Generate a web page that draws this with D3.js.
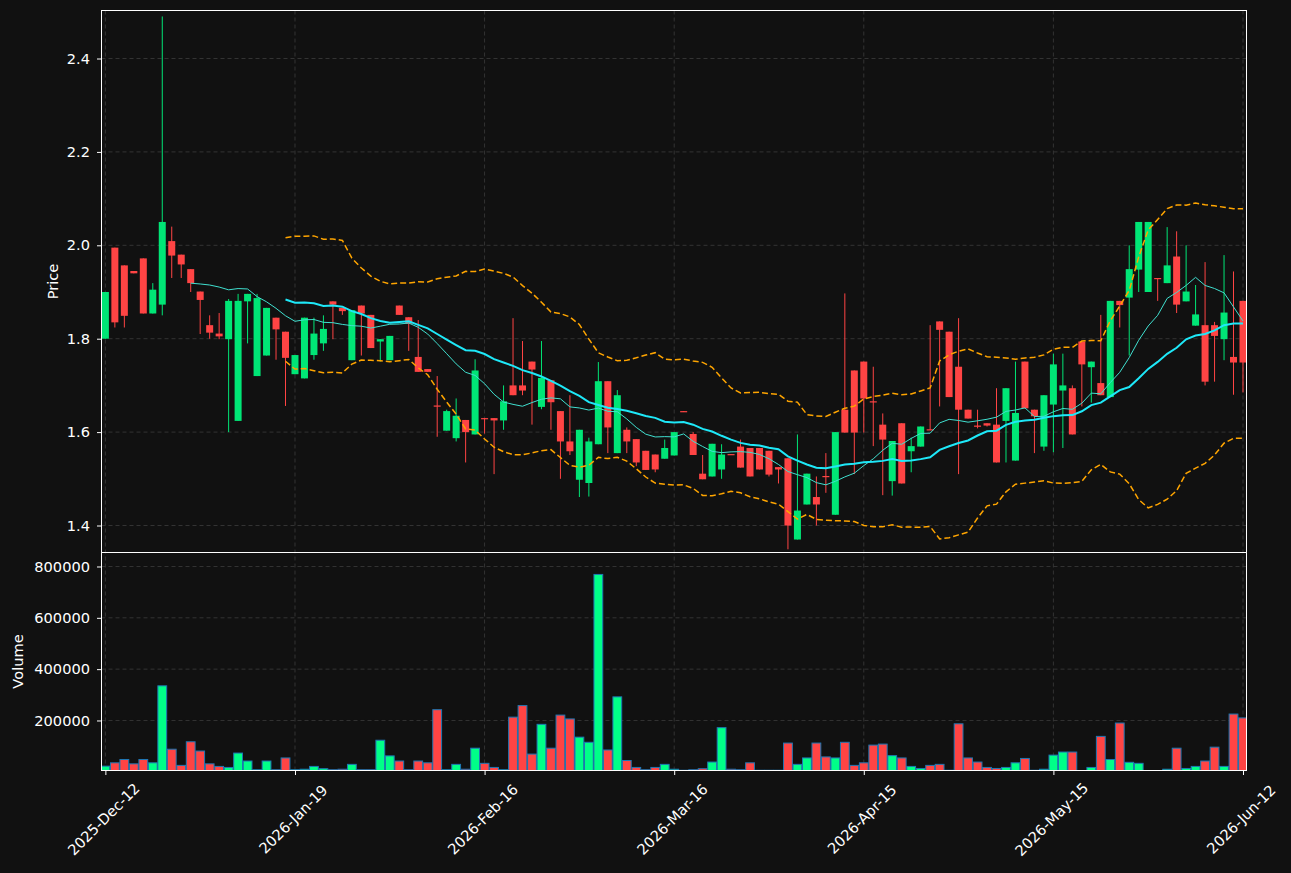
<!DOCTYPE html>
<html>
<head>
<meta charset="utf-8">
<script src="https://cdn.jsdelivr.net/npm/d3@7"></script>
<style>
  body { margin: 0; background: #111111; }
  svg { display: block; font-family: "DejaVu Sans", sans-serif; }
</style>
</head>
<body>
<div id="chart"></div>
<script>
// tick labels sit on every 20th trading day
const tickIdx = [0, 20, 40, 60, 80, 100, 120];
const tickLabels = ["2025-Dec-12", "2026-Jan-19", "2026-Feb-16", "2026-Mar-16", "2026-Apr-15", "2026-May-15", "2026-Jun-12"];

const opens = [
  1.80, 1.995, 1.957, 1.945, 1.972, 1.854, 1.873, 2.009, 1.98, 1.949, 1.901, 1.829,
  1.811, 1.799, 1.624, 1.880, 1.72, 1.764, 1.845, 1.815, 1.724, 1.715, 1.765, 1.79,
  1.880, 1.866, 1.754, 1.871, 1.851, 1.794, 1.754, 1.871, 1.846, 1.761, 1.735, 1.657,
  1.603, 1.587, 1.626, 1.595, 1.630, 1.630, 1.625, 1.70, 1.70, 1.751, 1.654, 1.711,
  1.645, 1.58, 1.498, 1.491, 1.574, 1.709, 1.555, 1.605, 1.585, 1.56, 1.552, 1.543,
  1.55, 1.645, 1.596, 1.511, 1.505, 1.52, 1.553, 1.569, 1.566, 1.566, 1.56, 1.525,
  1.544, 1.37, 1.445, 1.461, 1.506, 1.423, 1.648, 1.732, 1.751, 1.666, 1.616, 1.495,
  1.619, 1.559, 1.569, 1.606, 1.837, 1.815, 1.74, 1.648, 1.614, 1.619, 1.616, 1.624,
  1.539, 1.751, 1.648, 1.569, 1.659, 1.689, 1.694, 1.794, 1.739, 1.705, 1.675, 1.881,
  1.888, 1.948, 1.90, 1.93, 1.919, 1.976, 1.88, 1.828, 1.829, 1.829, 1.799, 1.761, 1.881
];
const highs = [
  1.90, 1.995, 1.957, 1.945, 1.972, 1.919, 2.49, 2.04, 1.98, 1.949, 1.901, 1.85,
  1.855, 1.885, 1.896, 1.896, 1.896, 1.866, 1.845, 1.815, 1.765, 1.845, 1.845, 1.85,
  1.88, 1.866, 1.861, 1.871, 1.851, 1.799, 1.806, 1.871, 1.846, 1.84, 1.735, 1.72,
  1.648, 1.672, 1.626, 1.756, 1.63, 1.63, 1.70, 1.844, 1.795, 1.751, 1.795, 1.711,
  1.645, 1.679, 1.605, 1.588, 1.75, 1.709, 1.69, 1.61, 1.585, 1.56, 1.552, 1.584,
  1.60, 1.645, 1.60, 1.551, 1.575, 1.574, 1.553, 1.584, 1.566, 1.566, 1.56, 1.525,
  1.544, 1.595, 1.511, 1.505, 1.555, 1.60, 1.897, 1.732, 1.751, 1.74, 1.64, 1.581,
  1.619, 1.588, 1.612, 1.829, 1.837, 1.815, 1.844, 1.648, 1.648, 1.619, 1.694, 1.694,
  1.751, 1.751, 1.648, 1.679, 1.768, 1.768, 1.70, 1.794, 1.751, 1.851, 1.881, 1.881,
  2.0, 2.05, 2.05, 1.93, 2.039, 2.03, 2.0, 1.915, 1.964, 1.836, 1.979, 1.944, 1.881
];
const lows = [
  1.80, 1.824, 1.824, 1.940, 1.854, 1.854, 1.850, 1.93, 1.93, 1.90, 1.81, 1.80,
  1.799, 1.60, 1.624, 1.790, 1.72, 1.764, 1.755, 1.656, 1.724, 1.715, 1.755, 1.774,
  1.799, 1.851, 1.754, 1.764, 1.78, 1.751, 1.754, 1.851, 1.774, 1.729, 1.729, 1.59,
  1.603, 1.58, 1.535, 1.595, 1.597, 1.51, 1.605, 1.679, 1.679, 1.616, 1.649, 1.605,
  1.50, 1.551, 1.461, 1.462, 1.574, 1.555, 1.555, 1.555, 1.527, 1.519, 1.514, 1.543,
  1.55, 1.643, 1.551, 1.499, 1.505, 1.50, 1.552, 1.524, 1.505, 1.52, 1.505, 1.49,
  1.349, 1.37, 1.445, 1.40, 1.47, 1.423, 1.599, 1.51, 1.599, 1.57, 1.465, 1.464,
  1.49, 1.514, 1.569, 1.605, 1.655, 1.675, 1.51, 1.629, 1.608, 1.612, 1.535, 1.535,
  1.539, 1.651, 1.555, 1.56, 1.557, 1.566, 1.595, 1.655, 1.663, 1.679, 1.675, 1.824,
  1.764, 1.90, 1.90, 1.881, 1.919, 1.855, 1.88, 1.828, 1.70, 1.708, 1.754, 1.68, 1.685
];
const closes = [
  1.90, 1.835, 1.849, 1.940, 1.854, 1.905, 2.05, 1.978, 1.959, 1.919, 1.883, 1.813,
  1.805, 1.881, 1.881, 1.896, 1.887, 1.866, 1.82, 1.759, 1.765, 1.845, 1.811, 1.821,
  1.873, 1.859, 1.861, 1.854, 1.78, 1.799, 1.806, 1.851, 1.832, 1.729, 1.729, 1.655,
  1.645, 1.635, 1.60, 1.732, 1.628, 1.625, 1.666, 1.679, 1.689, 1.734, 1.716, 1.664,
  1.58, 1.559, 1.605, 1.58, 1.709, 1.61, 1.679, 1.58, 1.535, 1.519, 1.52, 1.566,
  1.60, 1.643, 1.551, 1.499, 1.575, 1.552, 1.552, 1.524, 1.505, 1.52, 1.509, 1.52,
  1.40, 1.432, 1.511, 1.445, 1.505, 1.60, 1.599, 1.599, 1.672, 1.665, 1.584, 1.581,
  1.49, 1.57, 1.612, 1.605, 1.819, 1.675, 1.648, 1.629, 1.613, 1.614, 1.535, 1.694,
  1.641, 1.651, 1.634, 1.679, 1.745, 1.70, 1.595, 1.745, 1.751, 1.679, 1.881, 1.872,
  1.949, 2.05, 2.05, 1.929, 1.957, 1.873, 1.901, 1.852, 1.708, 1.806, 1.856, 1.749, 1.749
];
const volumes = [
  22000, 35000, 48000, 31000, 48000, 35000, 335000, 88000, 25000, 117000, 81000, 31000,
  21000, 17000, 73000, 42000, 8000, 42000, 8000, 54000, 8000, 10000, 21000, 12000,
  8000, 10000, 29000, 8000, 8000, 123000, 62000, 42000, 8000, 42000, 35000, 242000,
  8000, 29000, 10000, 92000, 33000, 17000, 8000, 213000, 258000, 69000, 185000, 92000,
  221000, 206000, 135000, 115000, 769000, 85000, 292000, 44000, 17000, 8000, 17000, 29000,
  10000, 6000, 8000, 12000, 38000, 172000, 10000, 8000, 35000, 6000, 6000, 6000,
  112000, 29000, 54000, 112000, 58000, 54000, 115000, 25000, 35000, 104000, 108000, 63000,
  54000, 21000, 13000, 25000, 29000, 6000, 187000, 54000, 38000, 17000, 13000, 17000,
  35000, 52000, 6000, 10000, 65000, 77000, 77000, 4000, 17000, 138000, 48000, 190000,
  37000, 33000, 4000, 4000, 10000, 92000, 13000, 21000, 42000, 96000, 21000, 225000, 210000
];

const priceTicks = [1.4, 1.6, 1.8, 2.0, 2.2, 2.4];
const volTicks = [200000, 400000, 600000, 800000];

const width = 1291, height = 873;
const left = 101.5, right = 1246.5, pTop = 10.5, pBot = 552.5, vBot = 770.5;
const upColor = "#00e676", downColor = "#ff4444";
const volUp = "#00ff88", volDown = "#ff4444";

const svg = d3.select("#chart").append("svg")
  .attr("width", width).attr("height", height);
svg.append("rect").attr("width", width).attr("height", height).attr("fill", "#111111");

const x = d3.scaleLinear().domain([-0.41, 120.37]).range([left, right]);
const y = d3.scaleLinear().domain([1.3422, 2.5028]).range([pBot, pTop]);
const yv = d3.scaleLinear().domain([0, 854500]).range([771.8, pBot]);

svg.append("clipPath").attr("id", "pclip").append("rect")
  .attr("x", left).attr("y", pTop).attr("width", right - left).attr("height", pBot - pTop);
svg.append("clipPath").attr("id", "vclip").append("rect")
  .attr("x", left).attr("y", pBot).attr("width", right - left).attr("height", vBot - pBot);

// grid
const grid = svg.append("g").attr("stroke", "#3c3c3c").attr("stroke-width", 0.8).attr("stroke-dasharray", "4,3");
grid.selectAll(".gx").data(tickIdx).join("line")
  .attr("x1", d => x(d)).attr("x2", d => x(d)).attr("y1", pTop).attr("y2", vBot);
grid.selectAll(".gp").data(priceTicks).join("line")
  .attr("x1", left).attr("x2", right).attr("y1", d => y(d)).attr("y2", d => y(d));
grid.selectAll(".gv").data(volTicks).join("line")
  .attr("x1", left).attr("x2", right).attr("y1", d => yv(d)).attr("y2", d => yv(d));

const idx = d3.range(opens.length);
const bw = 7;

// candles
const candles = svg.append("g").attr("clip-path", "url(#pclip)");
candles.selectAll(".wick").data(idx).join("line")
  .attr("x1", i => x(i)).attr("x2", i => x(i))
  .attr("y1", i => y(highs[i])).attr("y2", i => y(lows[i]))
  .attr("stroke", i => closes[i] >= opens[i] ? upColor : downColor)
  .attr("stroke-width", 1);
candles.selectAll(".body").data(idx).join("rect")
  .attr("x", i => x(i) - bw / 2).attr("width", bw)
  .attr("y", i => y(Math.max(opens[i], closes[i])))
  .attr("height", i => Math.max(1.2, Math.abs(y(opens[i]) - y(closes[i]))))
  .attr("fill", i => closes[i] >= opens[i] ? upColor : downColor);

// moving averages and bands
function sma(arr, n) {
  return arr.map((v, i) => i < n - 1 ? null : d3.mean(arr.slice(i - n + 1, i + 1)));
}
function sd(arr, n) {
  return arr.map((v, i) => i < n - 1 ? null : d3.deviation(arr.slice(i - n + 1, i + 1)));
}
const ma10 = sma(closes, 10);
const ma20 = sma(closes, 20);
const sd20 = sd(closes, 20);
const upper = ma20.map((m, i) => m == null ? null : m + 2 * sd20[i]);
const lower = ma20.map((m, i) => m == null ? null : m - 2 * sd20[i]);

const line = d3.line().defined(d => d[1] != null).x(d => x(d[0])).y(d => y(d[1]));
const pairs = arr => arr.map((v, i) => [i, v]);

const lines = svg.append("g").attr("clip-path", "url(#pclip)").attr("fill", "none");
lines.append("path").datum(pairs(upper)).attr("d", line)
  .attr("stroke", "#ffa500").attr("stroke-width", 1.5).attr("stroke-dasharray", "6,3");
lines.append("path").datum(pairs(lower)).attr("d", line)
  .attr("stroke", "#ffa500").attr("stroke-width", 1.5).attr("stroke-dasharray", "6,3");
lines.append("path").datum(pairs(ma10)).attr("d", line)
  .attr("stroke", "#40e0d0").attr("stroke-width", 1);
lines.append("path").datum(pairs(ma20)).attr("d", line)
  .attr("stroke", "#1ee8f8").attr("stroke-width", 2);

// volume
const vbw = 8.8;
svg.append("g").attr("clip-path", "url(#vclip)")
  .selectAll("rect").data(idx).join("rect")
  .attr("x", i => x(i) - vbw / 2).attr("width", vbw)
  .attr("y", i => yv(volumes[i]))
  .attr("height", i => yv(0) - yv(volumes[i]))
  .attr("fill", i => closes[i] >= opens[i] ? volUp : volDown)
  .attr("stroke", "#1f77b4").attr("stroke-width", 1);

// spines
const sp = svg.append("g").attr("fill", "none").attr("stroke", "#ffffff").attr("stroke-width", 1);
sp.append("rect").attr("x", left).attr("y", pTop).attr("width", right - left).attr("height", pBot - pTop);
sp.append("rect").attr("x", left).attr("y", pBot).attr("width", right - left).attr("height", vBot - pBot);

// axes
const fs = "14.6px";
const yAxis = svg.append("g").attr("transform", `translate(${left},0)`)
  .call(d3.axisLeft(y).tickValues(priceTicks).tickFormat(d3.format(".1f")).tickSize(4.5).tickPadding(7));
const vAxis = svg.append("g").attr("transform", `translate(${left},0)`)
  .call(d3.axisLeft(yv).tickValues(volTicks).tickFormat(d3.format("d")).tickSize(4.5).tickPadding(7));
const xAxis = svg.append("g").attr("transform", `translate(0,${vBot})`)
  .call(d3.axisBottom(x).tickValues(tickIdx).tickFormat("").tickSize(4.5));
[yAxis, vAxis, xAxis].forEach(a => {
  a.select(".domain").remove();
  a.selectAll("line").attr("stroke", "#ffffff");
  a.selectAll("text").attr("fill", "#ffffff").style("font-size", fs).style("font-family", "DejaVu Sans");
});

svg.append("g").selectAll("text").data(tickIdx).join("text")
  .attr("transform", i => `translate(${x(i) - 2},${819}) rotate(-45)`)
  .attr("text-anchor", "middle").attr("dominant-baseline", "central")
  .attr("fill", "#ffffff").style("font-size", fs)
  .text((d, k) => tickLabels[k]);

svg.append("text")
  .attr("transform", `translate(52,${(pTop + pBot) / 2}) rotate(-90)`)
  .attr("text-anchor", "middle").attr("dominant-baseline", "central")
  .attr("fill", "#ffffff").style("font-size", fs).text("Price");
svg.append("text")
  .attr("transform", `translate(17,${(pBot + vBot) / 2}) rotate(-90)`)
  .attr("text-anchor", "middle").attr("dominant-baseline", "central")
  .attr("fill", "#ffffff").style("font-size", fs).text("Volume");
</script>
</body>
</html>
